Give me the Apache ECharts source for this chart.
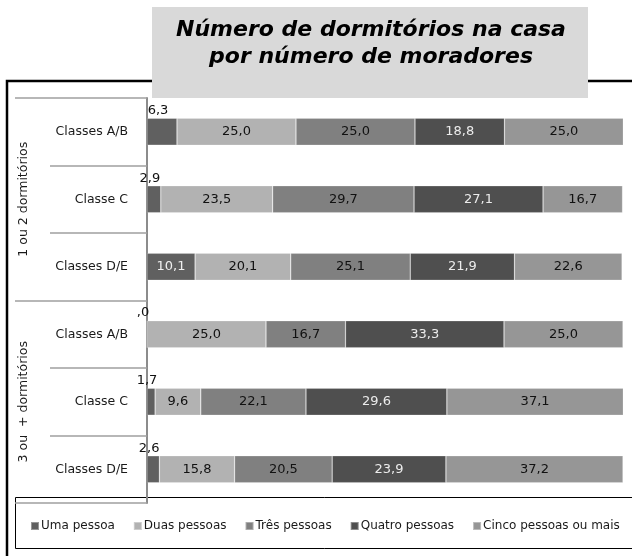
<!DOCTYPE html>
<html>
<head>
<meta charset="utf-8">
<script src="https://cdn.jsdelivr.net/npm/echarts@6/dist/echarts.min.js"></script>
<style>
  html, body { margin: 0; padding: 0; background: #fff; }
  #chart { width: 632px; height: 556px; }
</style>
</head>
<body>
<div id="chart"></div>
<script>
// Rows, top to bottom
const categories = ['Classes A/B', 'Classe C', 'Classes D/E', 'Classes A/B', 'Classe C', 'Classes D/E'];
const groups = ['1 ou 2 dormitórios', '3 ou  + dormitórios'];

const seriesNames = ['Uma pessoa', 'Duas pessoas', 'Três pessoas', 'Quatro pessoas', 'Cinco pessoas ou mais'];
const umaPessoa    = [6.3, 2.9, 10.1, 0.0, 1.7, 2.6];
const duasPessoas  = [25.0, 23.5, 20.1, 25.0, 9.6, 15.8];
const tresPessoas  = [25.0, 29.7, 25.1, 16.7, 22.1, 20.5];
const quatroPessoas = [18.8, 27.1, 21.9, 33.3, 29.6, 23.9];
const cincoPessoas = [25.0, 16.7, 22.6, 25.0, 37.1, 37.2];

const seriesColors = ['#606060', '#b2b2b2', '#808080', '#4f4f4f', '#969696'];
const labelColors  = ['#f0f0f0', '#111', '#111', '#ececec', '#111'];

const FONT = 'DejaVu Sans';

// "#,0" number format: 0 -> ",0", 6.3 -> "6,3"
function fmt(v) {
  const s = v.toFixed(1).replace('.', ',');
  return s.startsWith('0,') ? s.slice(1) : s;
}

function buildSeries(name, values, idx) {
  return {
    name: name,
    type: 'bar',
    stack: 'total',
    barWidth: 27,
    itemStyle: { color: seriesColors[idx], borderColor: 'rgba(255,255,255,0.35)', borderWidth: 0.6 },
    label: {
      show: true,
      position: 'inside',
      color: labelColors[idx],
      fontFamily: FONT,
      fontSize: 13,
      formatter: p => fmt(p.value)
    },
    data: values.map(v => {
      // narrow segments carry their label above the bar
      if (v < 8) {
        return {
          value: v,
          label: { position: 'top', distance: 1, offset: [-4, 0], color: '#111' }
        };
      }
      return v;
    })
  };
}

const allValues = [umaPessoa, duasPessoas, tresPessoas, quatroPessoas, cincoPessoas];

const chart = echarts.init(document.getElementById('chart'), null, { renderer: 'canvas' });

chart.setOption({
  animation: false,
  backgroundColor: '#fff',
  grid: { left: 147, top: 98, right: 9, bottom: 53 },
  xAxis: {
    type: 'value',
    min: 0,
    max: 100,
    show: false
  },
  yAxis: [
    {
      type: 'category',
      inverse: true,
      data: categories,
      axisLine: { show: true, lineStyle: { color: '#8c8c8c', width: 2 } },
      axisTick: { show: true, length: 97, lineStyle: { color: '#a0a0a0', width: 1.5 } },
      axisLabel: { margin: 19, color: '#1a1a1a', fontFamily: FONT, fontSize: 12.5 }
    },
    {
      type: 'category',
      inverse: true,
      position: 'left',
      data: groups,
      axisLine: { show: false },
      axisTick: { show: true, length: 132, lineStyle: { color: '#a0a0a0', width: 1.5 } },
      axisLabel: {
        rotate: 90,
        margin: 123,
        align: 'center',
        verticalAlign: 'middle',
        color: '#1a1a1a',
        fontFamily: FONT,
        fontSize: 12.5
      }
    }
  ],
  legend: {
    left: 30,
    top: 520,
    padding: 0,
    icon: 'rect',
    itemWidth: 8,
    itemHeight: 8,
    itemGap: 18,
    data: seriesNames,
    textStyle: { color: '#1a1a1a', fontFamily: FONT, fontSize: 12, padding: [0, 0, 0, -3] }
  },
  series: seriesNames.map((n, i) => buildSeries(n, allValues[i], i)),
  graphic: [
    // outer frame (left and top edges)
    {
      type: 'polyline',
      z: 0,
      shape: { points: [[7, 560], [7, 81], [640, 81]] },
      style: { stroke: '#000', lineWidth: 2.5, fill: null }
    },
    // legend box
    {
      type: 'rect',
      z: 0,
      shape: { x: 15.5, y: 497.5, width: 630, height: 51 },
      style: { stroke: '#000', lineWidth: 1, fill: null }
    },
    // title box
    {
      type: 'rect',
      z: 10,
      shape: { x: 152, y: 7, width: 436, height: 91 },
      style: { fill: '#d9d9d9' }
    },
    {
      type: 'text',
      z: 11,
      style: {
        x: 371,
        y: 44,
        text: 'Número de dormitórios na casa\npor número de moradores',
        align: 'center',
        verticalAlign: 'middle',
        lineHeight: 27,
        font: 'italic bold 22px "DejaVu Sans"',
        fill: '#000'
      }
    }
  ]
});
</script>
</body>
</html>
